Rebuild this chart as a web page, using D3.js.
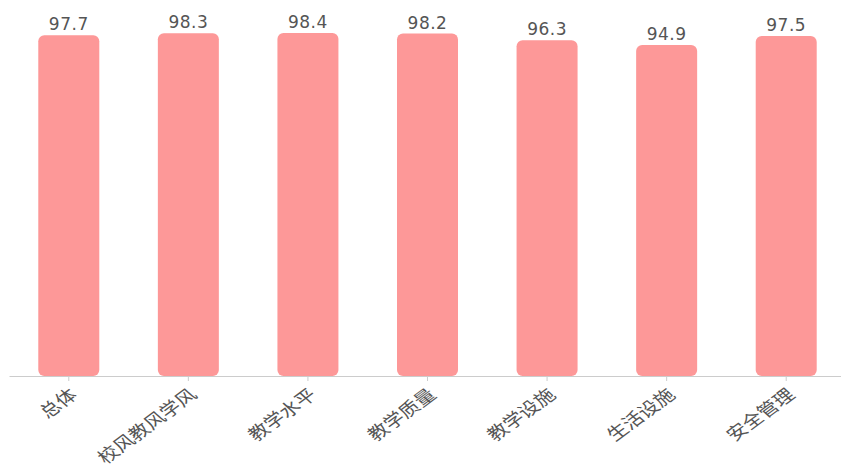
<!DOCTYPE html>
<html>
<head>
<meta charset="utf-8">
<script src="https://cdn.jsdelivr.net/npm/d3@7"></script>
<style>
  body { margin: 0; background: #fff; }
  svg { display: block; }
</style>
</head>
<body>
<div id="chart"></div>
<script>
// categories and scores
var categories = ['总体', '校风教风学风', '教学水平', '教学质量', '教学设施', '生活设施', '安全管理']
var scores = [97.7, 98.3, 98.4, 98.2, 96.3, 94.9, 97.5]

// layout settings
var chart = {}
chart.width = 841
chart.height = 468
chart.axisY = 376
chart.barColor = '#fd9898'
chart.textColor = '#555'

var svg = d3.select('#chart')
  .append('svg')
  .attr('width', chart.width)
  .attr('height', chart.height)

// scales
chart.xScale = d3.scaleBand()
  .domain(categories)
  .range([9, 846])
chart.yScale = d3.scaleLinear()
  .domain([0, 100])
  .range([chart.axisY, 27.3])

var barWidth = 61

// bars
svg.append('g')
  .selectAll('rect')
  .data(scores)
  .enter()
  .append('rect')
  .attr('x', function (d, i) {
    return chart.xScale(categories[i]) + chart.xScale.bandwidth() / 2 - barWidth / 2
  })
  .attr('y', function (d) { return chart.yScale(d) })
  .attr('width', barWidth)
  .attr('height', function (d) { return chart.axisY - chart.yScale(d) })
  .attr('rx', 6)
  .attr('ry', 6)
  .attr('fill', chart.barColor)

// value labels
svg.append('g')
  .selectAll('text')
  .data(scores)
  .enter()
  .append('text')
  .attr('x', function (d, i) {
    return chart.xScale(categories[i]) + chart.xScale.bandwidth() / 2
  })
  .attr('y', function (d) { return chart.yScale(d) - 5 })
  .attr('text-anchor', 'middle')
  .attr('font-family', 'DejaVu Sans, sans-serif')
  .attr('font-size', 17)
  .attr('letter-spacing', 0.5)
  .attr('fill', chart.textColor)
  .text(function (d) { return d.toFixed(1) })

// x axis, ticks at the bar centres
var xAxis = d3.axisBottom(chart.xScale).tickSize(5).tickSizeOuter(0).tickPadding(0)
var gx = svg.append('g')
  .attr('transform', 'translate(0,' + chart.axisY + ')')
  .call(xAxis)
gx.select('.domain').attr('stroke', '#ccc')
gx.selectAll('.tick line').attr('stroke', '#ccc')
// labels are a little wider in the original, so stretch them sideways
gx.selectAll('.tick text')
  .attr('font-family', 'Noto Sans CJK SC, sans-serif')
  .attr('font-size', 17)
  .attr('fill', '#555')
  .style('text-anchor', 'end')
  .attr('x', 0)
  .attr('y', 0)
  .attr('dy', '0.35em')
  .attr('transform', 'translate(5,16) scale(1.22,1) rotate(-42)')
</script>
</body>
</html>
